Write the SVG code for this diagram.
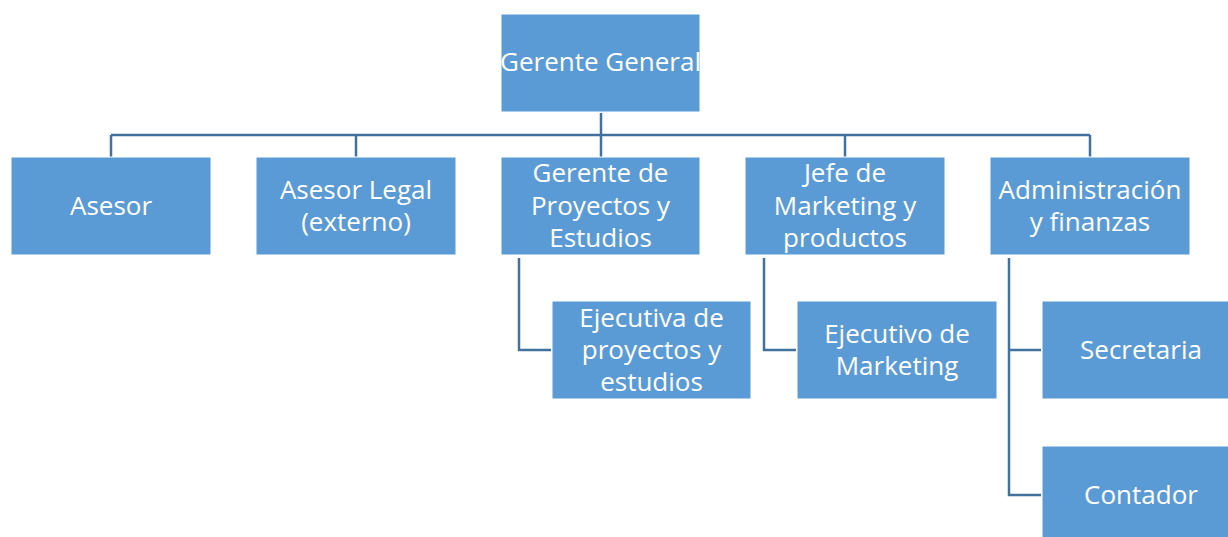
<svg xmlns="http://www.w3.org/2000/svg" width="1228" height="537" viewBox="0 0 1228 537">
<style>
.box{fill:#5B9BD5;stroke:#FFFFFF;stroke-width:1}
.lbl{fill:#FFFFFF;font-family:"Open Sans","Liberation Sans",Arial,sans-serif;font-size:26px;text-anchor:middle}
.con{fill:none;stroke:#41719C;stroke-width:2.5}
</style>
<rect width="1228" height="537" fill="#FFFFFF"/>
<g id="connectors">
<path class="con" d="M601 113 V135 M111 135 H1090 M111 135 V157 M356 135 V157 M601 135 V157 M845 135 V157 M1090 135 V157"/>
<path class="con" d="M519 258 V350 H551"/>
<path class="con" d="M764 258 V350 H796"/>
<path class="con" d="M1009 258 V495 H1041 M1009 350 H1041"/>
</g>
<g id="gerente-general"><rect class="box" x="501" y="14" width="199" height="98"/><text class="lbl" x="600.5" y="71">Gerente General</text></g>
<g id="asesor"><rect class="box" x="11" y="157" width="200" height="98"/><text class="lbl" x="111" y="215">Asesor</text></g>
<g id="asesor-legal"><rect class="box" x="256" y="157" width="200" height="98"/><text class="lbl" x="356" y="199">Asesor Legal</text><text class="lbl" x="356" y="231">(externo)</text></g>
<g id="gerente-proyectos"><rect class="box" x="501" y="157" width="199" height="98"/><text class="lbl" x="600.5" y="182">Gerente de</text><text class="lbl" x="600.5" y="215">Proyectos y</text><text class="lbl" x="600.5" y="247">Estudios</text></g>
<g id="jefe-marketing"><rect class="box" x="745" y="157" width="200" height="98"/><text class="lbl" x="845" y="182">Jefe de</text><text class="lbl" x="845" y="215">Marketing y</text><text class="lbl" x="845" y="247">productos</text></g>
<g id="administracion"><rect class="box" x="990" y="157" width="200" height="98"/><text class="lbl" x="1090" y="199">Administración</text><text class="lbl" x="1090" y="231">y finanzas</text></g>
<g id="ejecutiva-proyectos"><rect class="box" x="552" y="301" width="199" height="98"/><text class="lbl" x="651.5" y="327">Ejecutiva de</text><text class="lbl" x="651.5" y="359">proyectos y</text><text class="lbl" x="651.5" y="391">estudios</text></g>
<g id="ejecutivo-marketing"><rect class="box" x="797" y="301" width="200" height="98"/><text class="lbl" x="897" y="343">Ejecutivo de</text><text class="lbl" x="897" y="375">Marketing</text></g>
<g id="secretaria"><rect class="box" x="1042" y="301" width="200" height="98"/><text class="lbl" x="1141" y="359">Secretaria</text></g>
<g id="contador"><rect class="box" x="1042" y="446" width="200" height="98"/><text class="lbl" x="1141" y="504">Contador</text></g>
</svg>
